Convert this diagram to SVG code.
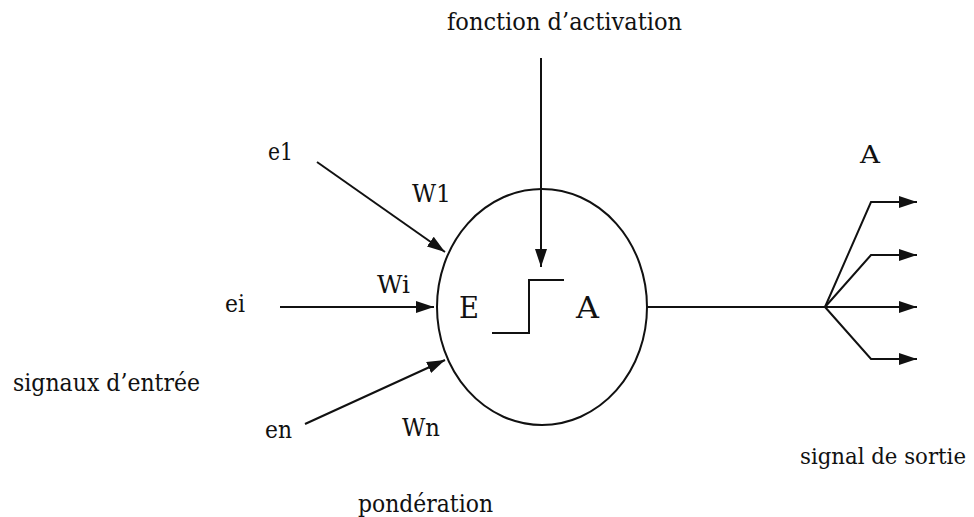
<svg xmlns="http://www.w3.org/2000/svg" width="974" height="517" viewBox="0 0 974 517">
<style>
text{font-family:'DejaVu Serif',serif;fill:#111;}
.lbl{font-size:25px;}
.big{font-size:29px;}
.ln{stroke:#111;stroke-width:2;fill:none;}
</style>
<defs>
<marker id="ah" markerUnits="userSpaceOnUse" markerWidth="20" markerHeight="12" refX="18" refY="6" orient="auto">
<path d="M0,0 L18,6 L0,12 Z" fill="#111"/>
</marker>
</defs>
<rect width="974" height="517" fill="#fff"/>
<g id="neuron">
<ellipse cx="542" cy="307" rx="105" ry="118" class="ln"/>
<polyline points="492,333 529,333 529,280 564,280" class="ln"/>
<text x="459" y="318" class="big" textLength="20" lengthAdjust="spacingAndGlyphs">E</text>
<text x="576" y="318" class="big" textLength="23" lengthAdjust="spacingAndGlyphs">A</text>
</g>
<g id="labels">
<text x="447" y="30" class="lbl" textLength="235" lengthAdjust="spacingAndGlyphs">fonction d’activation</text>
<text x="268" y="160" class="lbl" textLength="25" lengthAdjust="spacingAndGlyphs">e1</text>
<text x="412" y="202" class="lbl" textLength="39" lengthAdjust="spacingAndGlyphs">W1</text>
<text x="377" y="293" class="lbl" textLength="33" lengthAdjust="spacingAndGlyphs">Wi</text>
<text x="225" y="312" class="lbl" textLength="20" lengthAdjust="spacingAndGlyphs">ei</text>
<text x="13" y="391" class="lbl" textLength="187" lengthAdjust="spacingAndGlyphs">signaux d’entrée</text>
<text x="265" y="438" class="lbl" textLength="27" lengthAdjust="spacingAndGlyphs">en</text>
<text x="402" y="436" class="lbl" textLength="38" lengthAdjust="spacingAndGlyphs">Wn</text>
<text x="358" y="512" class="lbl" textLength="135" lengthAdjust="spacingAndGlyphs">pondération</text>
<text x="800" y="464" font-size="22" textLength="166" lengthAdjust="spacingAndGlyphs">signal de sortie</text>
<text x="860" y="163" class="lbl" textLength="20" lengthAdjust="spacingAndGlyphs">A</text>
</g>
<g id="connectors">
<line x1="541" y1="58" x2="541" y2="267" class="ln" marker-end="url(#ah)"/>
<line x1="317" y1="162" x2="445" y2="252" class="ln" marker-end="url(#ah)"/>
<line x1="280" y1="307" x2="434" y2="307" class="ln" marker-end="url(#ah)"/>
<line x1="305" y1="424" x2="445" y2="360" class="ln" marker-end="url(#ah)"/>
<line x1="647" y1="307" x2="825" y2="307" class="ln"/>
<polyline points="825,307 871,202 917,202" class="ln" marker-end="url(#ah)"/>
<polyline points="825,307 871,255 917,255" class="ln" marker-end="url(#ah)"/>
<line x1="825" y1="307" x2="917" y2="307" class="ln" marker-end="url(#ah)"/>
<polyline points="825,307 871,359 917,359" class="ln" marker-end="url(#ah)"/>
</g>
</svg>
